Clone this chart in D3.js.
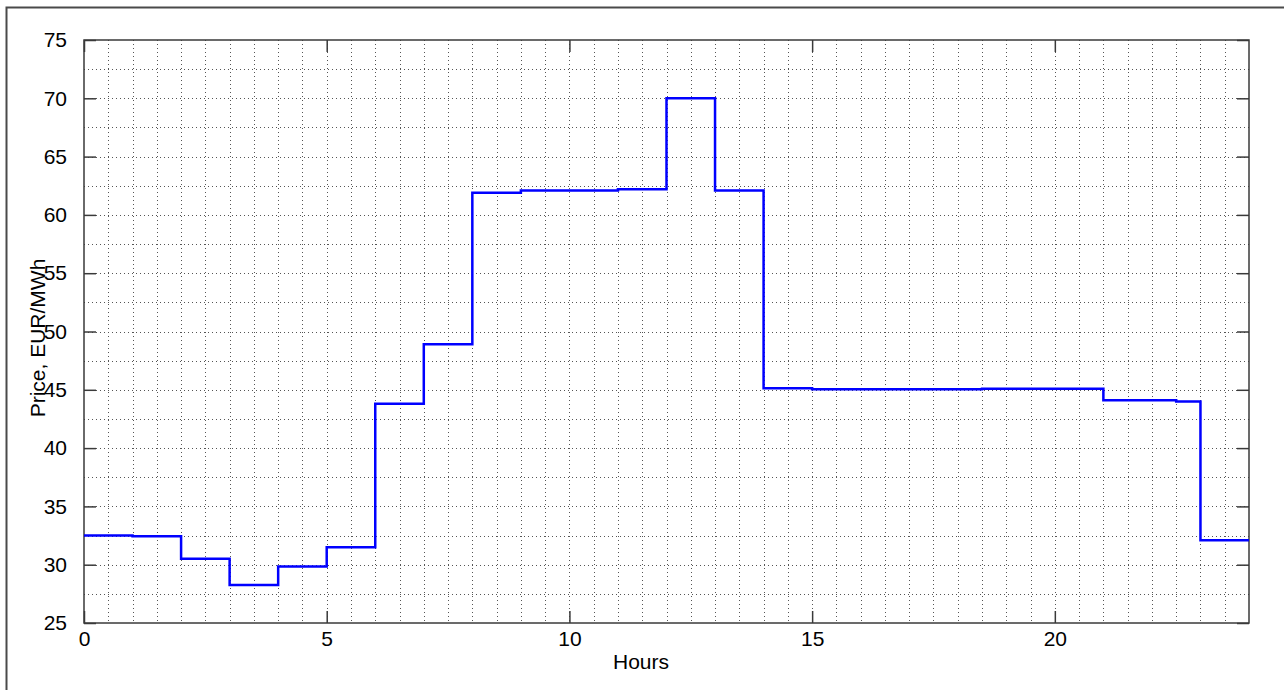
<!DOCTYPE html>
<html>
<head>
<meta charset="utf-8">
<script src="https://cdn.jsdelivr.net/npm/d3@7"></script>
<style>
  html, body { margin: 0; padding: 0; background: #fff; }
  svg { display: block; }
  text { font-family: "Liberation Sans", Arial, Helvetica, sans-serif; fill: #000; }
</style>
</head>
<body>
<svg id="chart" width="1284" height="690"></svg>
<script>
// Hourly price steps (value holds from the hour start until the next step)
const stepHours  = [0, 1, 2, 3, 4, 5, 6, 7, 8, 9, 11, 12, 13, 14, 15, 18.5, 21, 22.5, 23];
const stepPrices = [32.5, 32.45, 30.5, 28.25, 29.85, 31.5, 43.8, 48.9, 61.9, 62.1, 62.2, 70.0, 62.1, 45.13, 45.04, 45.08, 44.1, 44.0, 32.1];
const endHour = 24;

const xTicks = [0, 5, 10, 15, 20];
const yTicks = [25, 30, 35, 40, 45, 50, 55, 60, 65, 70, 75];
const xLabel = "Hours";
const yLabel = "Price, EUR/MWh";

const svg = d3.select("#chart");
const plot = { left: 84, right: 1249, top: 40, bottom: 623 };
const fontSize = 21;

const x = d3.scaleLinear().domain([0, 24]).range([plot.left, plot.right]);
const y = d3.scaleLinear().domain([25, 75]).range([plot.bottom, plot.top]);

// figure frame
svg.append("path")
  .attr("d", "M6.5,700 V7.5 H1300")
  .attr("fill", "none")
  .attr("stroke", "#4a4a4a")
  .attr("stroke-width", 2);

// dotted grid: every half hour and every 2.5 EUR/MWh
const gridX = d3.range(0.5, 24, 0.5);
const gridY = d3.range(27.5, 75, 2.5);
const grid = svg.append("g")
  .attr("stroke", "#555")
  .attr("stroke-width", 1)
  .attr("stroke-dasharray", "1,3")
  .attr("shape-rendering", "crispEdges");
grid.selectAll("line.gx").data(gridX).join("line")
  .attr("class", "gx")
  .attr("x1", d => Math.round(x(d)) + 0.5).attr("x2", d => Math.round(x(d)) + 0.5)
  .attr("y1", plot.top).attr("y2", plot.bottom);
grid.selectAll("line.gy").data(gridY).join("line")
  .attr("class", "gy")
  .attr("x1", plot.left).attr("x2", plot.right)
  .attr("y1", d => Math.round(y(d)) + 0.5).attr("y2", d => Math.round(y(d)) + 0.5);

// axes: bottom/left with labels, top/right mirrored ticks only
const tickLen = 12;
const axisColor = "#3a3a3a";

const xAxis = d3.axisBottom(x).tickValues(xTicks).tickSize(-tickLen).tickPadding(tickLen + 10).tickFormat(d3.format("d"));
const yAxis = d3.axisLeft(y).tickValues(yTicks).tickSize(-tickLen).tickPadding(tickLen + 5).tickFormat(d3.format("d"));

const gx = svg.append("g").attr("transform", `translate(0,${plot.bottom})`).call(xAxis);
const gy = svg.append("g").attr("transform", `translate(${plot.left},0)`).call(yAxis);
const gxTop = svg.append("g").attr("transform", `translate(0,${plot.top})`)
  .call(d3.axisTop(x).tickValues(xTicks).tickSize(-tickLen).tickFormat(""));
const gyRight = svg.append("g").attr("transform", `translate(${plot.right},0)`)
  .call(d3.axisRight(y).tickValues(yTicks).tickSize(-tickLen).tickFormat(""));

[gx, gy, gxTop, gyRight].forEach(g => {
  g.attr("font-size", fontSize).attr("font-family", "Liberation Sans, Arial, sans-serif");
  g.select(".domain").remove();
  g.selectAll(".tick line").attr("stroke", axisColor).attr("stroke-width", 1.5);
  g.selectAll("text").attr("fill", "#000");
});
gx.selectAll(".tick text").attr("dy", "0.71em").attr("y", 8);

// axes box
svg.append("rect")
  .attr("x", plot.left).attr("y", plot.top)
  .attr("width", plot.right - plot.left).attr("height", plot.bottom - plot.top)
  .attr("fill", "none")
  .attr("stroke", axisColor)
  .attr("stroke-width", 1.5);

// price series as stairs
const pts = stepHours.map((h, i) => [h, stepPrices[i]]);
pts.push([endHour, stepPrices[stepPrices.length - 1]]);
const line = d3.line()
  .x(d => x(d[0]))
  .y(d => y(d[1]))
  .curve(d3.curveStepAfter);
svg.append("path")
  .datum(pts)
  .attr("d", line)
  .attr("fill", "none")
  .attr("stroke", "#0000ff")
  .attr("stroke-width", 2.5);

// axis titles
svg.append("text")
  .attr("x", 641)
  .attr("y", 669)
  .attr("text-anchor", "middle")
  .attr("font-size", fontSize)
  .text(xLabel);

svg.append("text")
  .attr("transform", `translate(45,338) rotate(-90)`)
  .attr("text-anchor", "middle")
  .attr("font-size", fontSize)
  .text(yLabel);
</script>
</body>
</html>
